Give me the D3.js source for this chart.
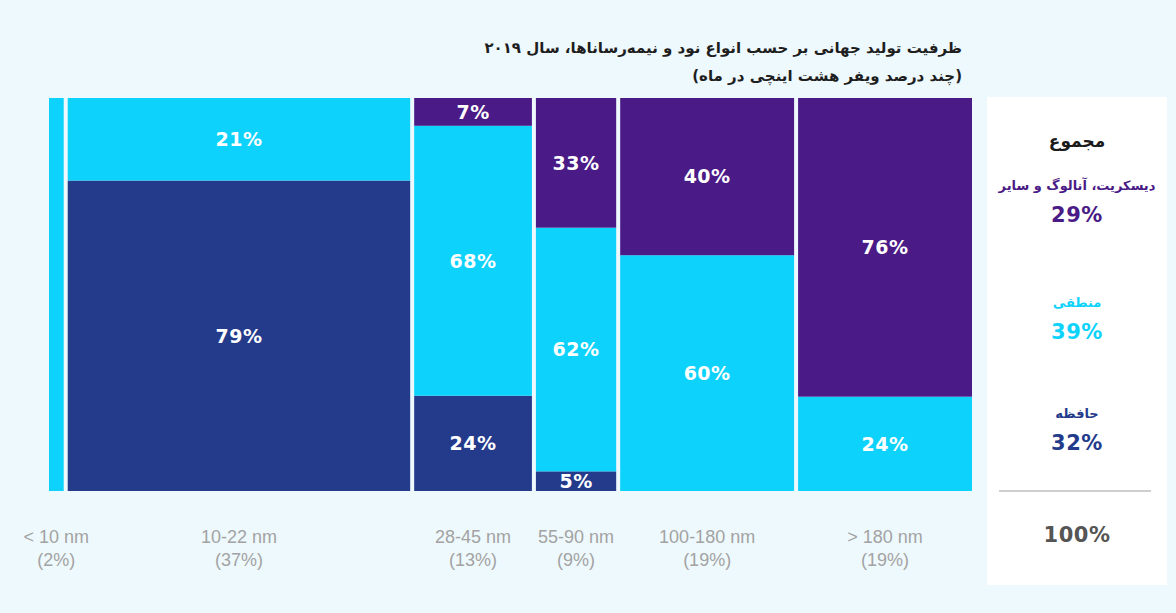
<!DOCTYPE html>
<html>
<head>
<meta charset="utf-8">
<script src="https://cdn.jsdelivr.net/npm/d3@7"></script>
<style>
  body { margin: 0; background: #eef9fd; }
  svg { display: block; }
</style>
</head>
<body>
<div id="chart"></div>
<script>
// data
var nodes = ["< 10 nm", "10-22 nm", "28-45 nm", "55-90 nm", "100-180 nm", "> 180 nm"];
var shares = [2, 37, 13, 9, 19, 19];
var memory = [0, 79, 24, 5, 0, 0];
var logic = [100, 21, 68, 62, 60, 24];
var discrete = [0, 0, 7, 33, 40, 76];
var seriesKeys = ["memory", "logic", "discrete"];
var seriesNames = ["حافظه", "منطقی", "دیسکریت، آنالوگ و سایر"];
var totals = [32, 39, 29];
var titleLines = ["ظرفیت تولید جهانی بر حسب انواع نود و نیمه‌رساناها، سال ۲۰۱۹", "(چند درصد ویفر هشت اینچی در ماه)"];

var W = 1176, H = 613;
var margin = {top: 98, left: 49, right: 204, bottom: 122};
var gap = 4;
var colors = {memory: "#243b8c", logic: "#0dd2fb", discrete: "#4a1b86"};

var svg = d3.select("#chart").append("svg")
  .attr("width", W).attr("height", H);

svg.append("rect").attr("width", W).attr("height", H).attr("fill", "#eef9fd");

var rows = nodes.map(function(n, i) {
  return {node: n, share: shares[i], memory: memory[i], logic: logic[i], discrete: discrete[i]};
});

// cumulative x positions from shares
var cum = 0;
rows.forEach(function(r) { r.x0 = cum; cum += r.share; r.x1 = cum; });

var x = d3.scaleLinear().domain([0, cum]).range([margin.left, W - margin.right + gap]);
var y = d3.scaleLinear().domain([0, 1]).range([H - margin.bottom, margin.top]);

var stack = d3.stack().keys(seriesKeys).offset(d3.stackOffsetExpand);
var stacked = stack(rows);

var g = svg.append("g");
stacked.forEach(function(layer) {
  var key = layer.key;
  layer.forEach(function(seg, i) {
    var r = rows[i];
    if (r[key] <= 0) return;
    var x0 = x(r.x0), x1 = x(r.x1) - gap;
    g.append("rect")
      .attr("x", x0).attr("width", x1 - x0)
      .attr("y", y(seg[1])).attr("height", y(seg[0]) - y(seg[1]))
      .attr("fill", colors[key]);
    if (x1 - x0 > 40) {
      g.append("text")
        .attr("x", (x0 + x1) / 2)
        .attr("y", (y(seg[0]) + y(seg[1])) / 2)
        .attr("dy", "0.36em")
        .attr("text-anchor", "middle")
        .attr("fill", "#fff")
        .attr("font-family", "DejaVu Sans")
        .attr("font-weight", "bold")
        .attr("font-size", 19)
        .attr("letter-spacing", 0.5)
        .text(r[key] + "%");
    }
  });
});

// column labels
rows.forEach(function(r) {
  var cx = (x(r.x0) + x(r.x1) - gap) / 2;
  var t = svg.append("text")
    .attr("text-anchor", "middle")
    .attr("fill", "#a3a3a3")
    .attr("font-family", "Liberation Sans, Arial, sans-serif")
    .attr("font-size", 18);
  t.append("tspan").attr("x", cx).attr("y", 543).text(r.node);
  t.append("tspan").attr("x", cx).attr("y", 566).text("(" + r.share + "%)");
});

// title
titleLines.forEach(function(line, i) {
  svg.append("text")
    .attr("x", 962).attr("y", 53 + i * 28)
    .attr("direction", "rtl")
    .attr("text-anchor", "start")
    .attr("fill", "#1e1e1e")
    .attr("font-family", "DejaVu Sans")
    .attr("font-weight", "bold")
    .attr("font-size", 15)
    .text(line);
});

// totals panel
var px = 987, pw = 180, pcx = px + pw / 2;
svg.append("rect").attr("x", px).attr("y", 97).attr("width", pw).attr("height", 488).attr("fill", "#fff");

svg.append("text")
  .attr("x", pcx).attr("y", 147)
  .attr("text-anchor", "middle")
  .attr("fill", "#1a1a1a")
  .attr("font-family", "DejaVu Sans")
  .attr("font-weight", "bold")
  .attr("font-size", 17)
  .text("مجموع");

var legendY = [413, 302, 185];
seriesKeys.forEach(function(k, i) {
  svg.append("text")
    .attr("x", pcx).attr("y", legendY[i] + 5)
    .attr("direction", "rtl")
    .attr("text-anchor", "middle")
    .attr("fill", colors[k])
    .attr("font-family", "DejaVu Sans")
    .attr("font-weight", "bold")
    .attr("font-size", 13)
    .text(seriesNames[i]);
  svg.append("text")
    .attr("x", pcx).attr("y", legendY[i] + 37)
    .attr("text-anchor", "middle")
    .attr("fill", colors[k])
    .attr("font-family", "DejaVu Sans")
    .attr("font-weight", "bold")
    .attr("font-size", 21)
    .attr("letter-spacing", 0.5)
    .text(totals[i] + "%");
});

svg.append("line")
  .attr("x1", 999).attr("x2", 1151)
  .attr("y1", 491).attr("y2", 491)
  .attr("stroke", "#cfcfcf").attr("stroke-width", 2);

svg.append("text")
  .attr("x", pcx).attr("y", 542)
  .attr("text-anchor", "middle")
  .attr("fill", "#555")
  .attr("font-family", "DejaVu Sans")
  .attr("font-weight", "bold")
  .attr("font-size", 21)
  .attr("letter-spacing", 0.5)
  .text(d3.sum(totals) + "%");
</script>
</body>
</html>
